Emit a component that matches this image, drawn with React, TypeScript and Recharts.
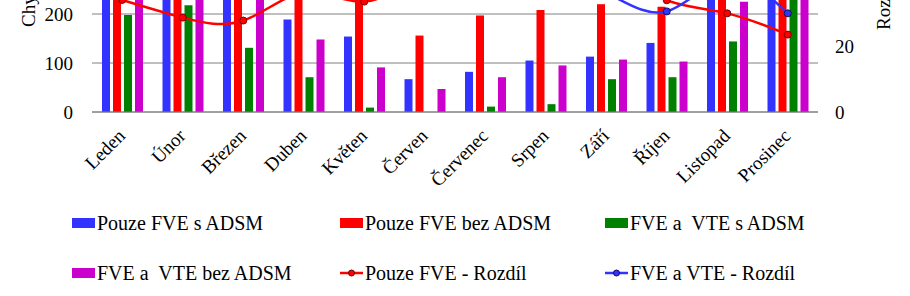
import React from 'react';
import { ComposedChart, Bar, Line, XAxis, YAxis, CartesianGrid, Legend } from 'recharts';

const months = ['Leden', 'Únor', 'Březen', 'Duben', 'Květen', 'Červen', 'Červenec', 'Srpen', 'Září', 'Říjen', 'Listopad', 'Prosinec'];
const fveWithAdsm = [290, 280, 260, 189, 154, 67, 82, 105, 113, 141, 260, 300];
const fveWithoutAdsm = [330, 320, 300, 270, 250, 156, 197, 208, 220, 215, 300, 340];
const fveVteWithAdsm = [198, 218, 131, 71, 9, 0, 11, 16, 67, 71, 144, 250];
const fveVteWithoutAdsm = [300, 300, 250, 148, 91, 47, 71, 95, 107, 103, 225, 310];
const fveDiff = [34.3, 28.9, 28.0, 36.5, 33.8, 42, 48, 50, 44, 34.2, 30.2, 23.7];
const fveVteDiff = [50, 48, 47, 52, 55, 58, 57, 45, 36.5, 30.8, 41, 30.2];
const leftTicks = [0, 100, 200, 300, 400];
const rightTicks = [0, 20, 40, 60];

const leftTitle = 'Chybějící energie [MWh]';
const rightTitle = 'Rozdíl [%]';

const series = [
  { key: 'a', name: 'Pouze FVE s ADSM', color: '#3333FF', kind: 'bar' },
  { key: 'b', name: 'Pouze FVE bez ADSM', color: '#FF0000', kind: 'bar' },
  { key: 'c', name: 'FVE a  VTE s ADSM', color: '#008000', kind: 'bar' },
  { key: 'd', name: 'FVE a  VTE bez ADSM', color: '#CC00CC', kind: 'bar' },
  { key: 'e', name: 'Pouze FVE - Rozdíl', color: '#FF0000', kind: 'line', dotStroke: '#700' },
  { key: 'f', name: 'FVE a VTE - Rozdíl', color: '#3333FF', kind: 'line', dotStroke: '#115' },
];

const data = months.map((m, i) => ({
  month: m,
  a: fveWithAdsm[i],
  b: fveWithoutAdsm[i],
  c: fveVteWithAdsm[i],
  d: fveVteWithoutAdsm[i],
  e: fveDiff[i],
  f: fveVteDiff[i],
}));

const FONT = '"Liberation Serif", "Times New Roman", serif';

const XTick = (props: any) => {
  const { x, y, payload } = props;
  const px = x + 4;
  const py = y + 25;
  return (
    <text x={px} y={py} textAnchor="end" transform={`rotate(-45 ${px} ${py})`} fontFamily={FONT} fontSize={19} fill="#000">
      {payload.value}
    </text>
  );
};

const LegendContent = () => {
  const cols = [72, 340, 605];
  const rows = [23, 73];
  return (
    <div style={{ position: 'relative', width: 910, height: 96, fontFamily: FONT }}>
      {series.map((s, i) => {
        const left = cols[i % 3];
        const top = rows[Math.floor(i / 3)];
        return (
          <div key={s.key} style={{ position: 'absolute', left, top: top - 12, height: 24, display: 'flex', alignItems: 'center', whiteSpace: 'pre' }}>
            <svg width={24} height={12} style={{ display: 'block' }}>
              {s.kind === 'bar' ? (
                <rect x={0} y={1} width={23} height={10} fill={s.color} />
              ) : (
                <g>
                  <line x1={0} y1={6} x2={23} y2={6} stroke={s.color} strokeWidth={2.5} />
                  <circle cx={11.5} cy={6} r={3} fill={s.color} stroke={s.dotStroke} strokeWidth={1} />
                </g>
              )}
            </svg>
            <span style={{ fontSize: 20, color: '#000', marginLeft: 1, lineHeight: '24px', whiteSpace: 'pre' }}>{s.name}</span>
          </div>
        );
      })}
    </div>
  );
};

const LeftTitle = (props: any) => {
  const vb = props.viewBox || {};
  const x = vb.x + 35;
  const y = vb.y + vb.height - 85;
  return (
    <text x={x} y={y} transform={`rotate(-90 ${x} ${y})`} textAnchor="start" fontFamily={FONT} fontSize={19} fill="#000">
      {leftTitle}
    </text>
  );
};

const RightTitle = (props: any) => {
  const vb = props.viewBox || {};
  const x = vb.x + 72;
  const y = vb.y + vb.height - 82;
  return (
    <text x={x} y={y} transform={`rotate(-90 ${x} ${y})`} textAnchor="start" fontFamily={FONT} fontSize={19} fill="#000">
      {rightTitle}
    </text>
  );
};

export default function App() {
  return (
    <div style={{ position: 'absolute', left: 0, top: -94, width: 910, height: 390, background: '#fff' }}>
      <ComposedChart width={910} height={390} data={data} margin={{ top: 10, right: 0, left: 0, bottom: 0 }} barSize={8} barGap={3}>
        <CartesianGrid horizontal vertical={false} stroke="#808080" strokeWidth={1} yAxisId="left" />
        <XAxis dataKey="month" interval={0} tickLine={false} tickSize={0} tickMargin={0} axisLine={{ stroke: '#808080', strokeWidth: 1 }} tick={<XTick />} height={88} />
        <YAxis yAxisId="left" orientation="left" width={92} domain={[0, 400]} ticks={leftTicks} tickLine={false} axisLine={false} tickSize={0} tickMargin={19} tick={{ fontFamily: FONT, fontSize: 19, fill: '#000' }} label={<LeftTitle />} />
        <YAxis yAxisId="right" orientation="right" width={92} domain={[0, 60]} ticks={rightTicks} tickLine={false} axisLine={false} tickSize={0} tickMargin={17} tick={{ fontFamily: FONT, fontSize: 19, fill: '#000' }} label={<RightTitle />} />
        <Bar yAxisId="left" dataKey="a" name={series[0].name} fill={series[0].color} isAnimationActive={false} />
        <Bar yAxisId="left" dataKey="b" name={series[1].name} fill={series[1].color} isAnimationActive={false} />
        <Bar yAxisId="left" dataKey="c" name={series[2].name} fill={series[2].color} isAnimationActive={false} />
        <Bar yAxisId="left" dataKey="d" name={series[3].name} fill={series[3].color} isAnimationActive={false} />
        <Line yAxisId="right" type="natural" dataKey="e" name={series[4].name} stroke={series[4].color} strokeWidth={2.5} dot={{ r: 3.5, fill: '#FF0000', stroke: '#700', strokeWidth: 1 }} isAnimationActive={false} />
        <Line yAxisId="right" type="natural" dataKey="f" name={series[5].name} stroke={series[5].color} strokeWidth={2.5} dot={{ r: 3.5, fill: '#3333FF', stroke: '#115', strokeWidth: 1 }} isAnimationActive={false} />
        <Legend content={<LegendContent />} wrapperStyle={{ left: 0, top: 294, width: 910, height: 96 }} height={96} verticalAlign="bottom" />
      </ComposedChart>
    </div>
  );
}
